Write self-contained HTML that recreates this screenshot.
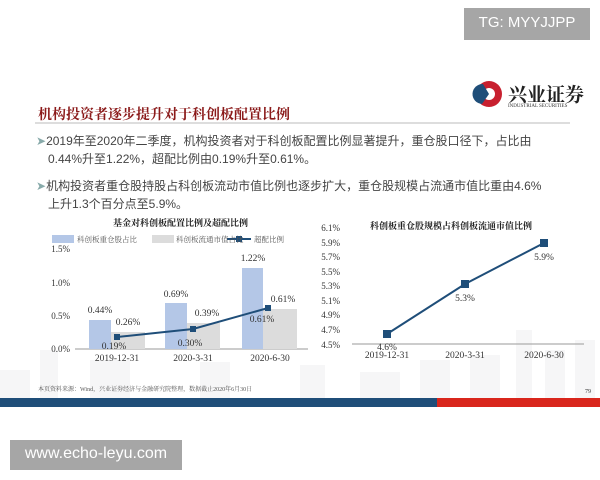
<!DOCTYPE html>
<html><head><meta charset="utf-8"><style>
body{margin:0;width:600px;height:480px;background:#fff;overflow:hidden;position:relative;font-family:"Liberation Serif","Noto Serif CJK SC",serif;}
.a{position:absolute;white-space:nowrap;}
.b{font-size:12px;color:#444;font-family:"Liberation Sans","Noto Sans CJK SC",sans-serif;}
</style></head><body>
<svg class="a" style="left:0;top:0" width="600" height="480">
<g fill="#f6f6f7">
<rect x="0" y="370" width="30" height="28"/><rect x="40" y="350" width="18" height="48"/><rect x="90" y="360" width="40" height="38"/><rect x="200" y="362" width="30" height="36"/><rect x="300" y="365" width="25" height="33"/><rect x="360" y="372" width="40" height="26"/><rect x="420" y="360" width="30" height="38"/><rect x="470" y="355" width="30" height="43"/><rect x="516" y="330" width="16" height="68"/><rect x="545" y="350" width="20" height="48"/><rect x="575" y="340" width="20" height="58"/>
</g>
<rect x="0" y="398" width="437" height="9" fill="#1f4e79"/>
<rect x="437" y="398" width="163" height="9" fill="#d9261c"/>
<rect x="464" y="8" width="126" height="32" fill="#a6a6a6"/>
<rect x="10" y="440" width="172" height="30" fill="#a6a6a6"/>
<line x1="35" y1="123" x2="570" y2="123" stroke="#bbb" stroke-width="1"/>
<circle cx="489" cy="94" r="13" fill="#c8202f"/><circle cx="489" cy="94" r="6" fill="#fff"/><path d="M483 84 A10 10 0 0 0 482 104 L489 94Z" fill="#1f4e79"/>
<g font-family="Liberation Serif" font-size="9" fill="#333">
<text x="70" y="252" text-anchor="end">1.5%</text><text x="70" y="286" text-anchor="end">1.0%</text><text x="70" y="319" text-anchor="end">0.5%</text><text x="70" y="352" text-anchor="end">0.0%</text>
</g>
<line x1="75" y1="349" x2="308" y2="349" stroke="#999"/>
<g fill="#b4c7e7"><rect x="89" y="320" width="22" height="29"/><rect x="165" y="303" width="22" height="46"/><rect x="242" y="268" width="21" height="81"/></g>
<g fill="#dcdcdc"><rect x="111" y="332" width="34" height="17"/><rect x="187" y="323" width="33" height="26"/><rect x="263" y="309" width="34" height="40"/></g>
<polyline points="117,337 193,329 268,308" fill="none" stroke="#1f4e79" stroke-width="2"/>
<g fill="#1f4e79"><rect x="114" y="334" width="6" height="6"/><rect x="190" y="326" width="6" height="6"/><rect x="265" y="305" width="6" height="6"/></g>
<g font-family="Liberation Serif" font-size="9.5" fill="#333" text-anchor="middle">
<text x="100" y="313">0.44%</text><text x="128" y="325">0.26%</text><text x="114" y="349">0.19%</text>
<text x="176" y="297">0.69%</text><text x="207" y="316">0.39%</text><text x="190" y="346">0.30%</text>
<text x="253" y="261">1.22%</text><text x="283" y="302">0.61%</text><text x="262" y="322">0.61%</text>
<text x="117" y="361">2019-12-31</text><text x="193" y="361">2020-3-31</text><text x="270" y="361">2020-6-30</text>
</g>
<rect x="52" y="235" width="22" height="8" fill="#b4c7e7"/>
<rect x="152" y="235" width="22" height="8" fill="#dcdcdc"/>
<line x1="227" y1="239" x2="251" y2="239" stroke="#1f4e79" stroke-width="2"/><rect x="236" y="236" width="6" height="6" fill="#1f4e79"/>
<g font-family="Liberation Serif" font-size="9" fill="#333" text-anchor="end">
<text x="340" y="231">6.1%</text><text x="340" y="246">5.9%</text><text x="340" y="260">5.7%</text><text x="340" y="275">5.5%</text><text x="340" y="289">5.3%</text><text x="340" y="304">5.1%</text><text x="340" y="318">4.9%</text><text x="340" y="333">4.7%</text><text x="340" y="348">4.5%</text>
</g>
<line x1="352" y1="344" x2="584" y2="344" stroke="#999"/>
<polyline points="387,334 465,284 544,243" fill="none" stroke="#1f4e79" stroke-width="2"/>
<g fill="#1f4e79"><rect x="383" y="330" width="8" height="8"/><rect x="461" y="280" width="8" height="8"/><rect x="540" y="239" width="8" height="8"/></g>
<g font-family="Liberation Serif" font-size="9.5" fill="#333" text-anchor="middle">
<text x="387" y="350">4.6%</text><text x="465" y="301">5.3%</text><text x="544" y="260">5.9%</text>
<text x="387" y="358">2019-12-31</text><text x="465" y="358">2020-3-31</text><text x="544" y="358">2020-6-30</text>
</g>
</svg>
<div class="a" style="left:464px;top:14px;width:126px;text-align:center;color:#fff;font:15px 'Liberation Sans',sans-serif;">TG: MYYJJPP</div>
<div class="a" style="left:10px;top:445px;width:172px;text-align:center;color:#fff;font:16px 'Liberation Sans',sans-serif;">www.echo-leyu.com</div>
<div class="a" style="left:508px;top:80px;font-size:19px;font-weight:bold;color:#222;">兴业证券</div>
<div class="a" style="left:508px;top:104px;font-size:5px;color:#333;">INDUSTRIAL SECURITIES</div>
<div class="a" style="left:38px;top:104px;font-size:14px;font-weight:bold;color:#8b1a1a;">机构投资者逐步提升对于科创板配置比例</div>
<div class="a b" style="left:36px;top:132px;"><span style="color:#8aa">➤</span>2019年至2020年二季度，机构投资者对于科创板配置比例显著提升，重仓股口径下，占比由</div>
<div class="a b" style="left:48px;top:150px;">0.44%升至1.22%，超配比例由0.19%升至0.61%。</div>
<div class="a b" style="left:36px;top:177px;"><span style="color:#8aa">➤</span>机构投资者重仓股持股占科创板流动市值比例也逐步扩大，重仓股规模占流通市值比重由4.6%</div>
<div class="a b" style="left:48px;top:195px;">上升1.3个百分点至5.9%。</div>
<div class="a" style="left:113px;top:216px;font-size:9px;font-weight:bold;color:#222;">基金对科创板配置比例及超配比例</div>
<div class="a" style="left:77px;top:234px;font-size:7.5px;color:#555;">科创板重仓股占比</div>
<div class="a" style="left:176px;top:234px;font-size:7.5px;color:#555;">科创板流通市值占比</div>
<div class="a" style="left:254px;top:234px;font-size:7.5px;color:#555;">超配比例</div>
<div class="a" style="left:370px;top:219px;font-size:9px;font-weight:bold;color:#222;">科创板重仓股规模占科创板流通市值比例</div>
<div class="a" style="left:38px;top:384px;font-size:6px;color:#555;">本页资料来源：Wind，兴业证券经济与金融研究院整理，数据截止2020年6月30日</div>
<div class="a" style="left:585px;top:389px;font-size:6px;color:#333;">79</div>
</body></html>
